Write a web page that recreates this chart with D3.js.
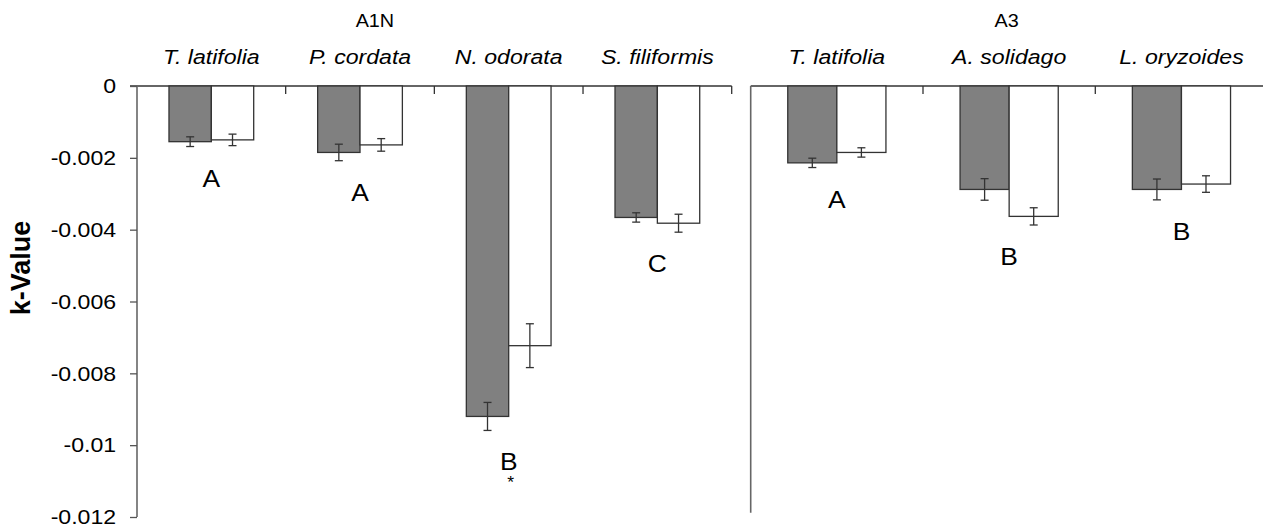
<!DOCTYPE html>
<html>
<head>
<meta charset="utf-8">
<script src="https://cdn.jsdelivr.net/npm/d3@7"></script>
<style>
  body { margin: 0; background: #fff; }
  text { font-family: "Liberation Sans", Arial, sans-serif; fill: #000; }
</style>
</head>
<body>
<div id="root"></div>
<script>
// values (k-value, mean and error)
const leftCats = ["T. latifolia", "P. cordata", "N. odorata", "S. filiformis"];
const leftGray = [-0.00155, -0.00185, -0.0092, -0.00366];
const leftGrayErr = [0.000135, 0.00023, 0.00039, 0.00013];
const leftWhite = [-0.0015, -0.00164, -0.00723, -0.00382];
const leftWhiteErr = [0.00016, 0.000175, 0.00061, 0.00025];
const leftLetters = ["A", "A", "B", "C"];
const leftStars = ["", "", "*", ""];

const rightCats = ["T. latifolia", "A. solidago", "L. oryzoides"];
const rightGray = [-0.00214, -0.00288, -0.00288];
const rightGrayErr = [0.00013, 0.0003, 0.00029];
const rightWhite = [-0.00185, -0.00363, -0.00273];
const rightWhiteErr = [0.00013, 0.00024, 0.00023];
const rightLetters = ["A", "B", "B"];
const rightStars = ["", "", ""];

const yTicks = [0, -0.002, -0.004, -0.006, -0.008, -0.01, -0.012];
const yTickLabels = ["0", "-0.002", "-0.004", "-0.006", "-0.008", "-0.01", "-0.012"];

const width = 1263, height = 531;
const sx = 1.1; // the source picture is slightly stretched sideways

const svg = d3.select("#root")
	.append("svg")
		.attr("width", width)
		.attr("height", height);

const y = d3.scaleLinear().domain([0, -0.012]).range([86, 517]);

const addText = (g, x, yy, str, size, opts = {}) => {
	return g.append("text")
		.attr("transform", `translate(${x}, ${yy}) scale(${opts.rot ? 1 : sx}, 1)${opts.rot ? " rotate(-90)" : ""}`)
		.attr("text-anchor", "middle")
		.style("font-size", size + "px")
		.style("font-style", opts.italic ? "italic" : null)
		.style("font-weight", opts.bold ? "bold" : null)
		.text(str);
};

const drawPanel = (p) => {
	const g = svg.append("g");
	const x = d3.scaleBand().domain(p.cats).range(p.range);
	const sub = d3.scaleBand().domain(["g", "w"]).range([0, x.bandwidth()]).paddingOuter(0.755);
	const rows = p.cats.map((c, i) => ({
		cat: c,
		bars: [
			{ k: "g", v: p.gray[i], e: p.grayErr[i] },
			{ k: "w", v: p.white[i], e: p.whiteErr[i] }
		],
		letter: p.letters[i],
		star: p.stars[i]
	}));

	// zero line on top
	g.append("line")
		.attr("x1", p.range[0] - (p.axis ? 7 : 0)).attr("x2", Math.min(p.range[1], width))
		.attr("y1", y(0)).attr("y2", y(0))
		.style("stroke", "#333").style("stroke-width", 1.3);

	// category boundary ticks
	g.selectAll(".cattick")
		.data(p.cats.slice(1).map(c => x(c)).concat(p.range[1] < width ? [p.range[1]] : []))
		.enter()
		.append("line")
			.attr("x1", d => d).attr("x2", d => d)
			.attr("y1", y(0)).attr("y2", y(0) + 8)
			.style("stroke", "#333").style("stroke-width", 1.3);

	const groups = g.selectAll(".grp")
		.data(rows).enter()
		.append("g")
			.attr("transform", d => `translate(${x(d.cat)}, 0)`);

	groups.selectAll("rect")
		.data(d => d.bars).enter()
		.append("rect")
			.attr("x", d => sub(d.k))
			.attr("y", y(0))
			.attr("width", sub.bandwidth())
			.attr("height", d => y(d.v) - y(0))
			.style("fill", d => d.k == "g" ? "#808080" : "#fff")
			.style("stroke", "#333")
			.style("stroke-width", 1.3);

	const err = groups.selectAll(".err")
		.data(d => d.bars).enter()
		.append("g")
			.attr("transform", d => `translate(${sub(d.k) + sub.bandwidth() / 2}, 0)`)
			.style("stroke", "#333").style("stroke-width", 1.3);
	err.append("line").attr("y1", d => y(d.v - d.e)).attr("y2", d => y(d.v + d.e));
	err.append("line").attr("x1", -4).attr("x2", 4).attr("y1", d => y(d.v - d.e)).attr("y2", d => y(d.v - d.e));
	err.append("line").attr("x1", -4).attr("x2", 4).attr("y1", d => y(d.v + d.e)).attr("y2", d => y(d.v + d.e));

	rows.forEach(d => {
		const cx = x(d.cat) + x.bandwidth() / 2;
		const low = d3.max(d.bars, b => y(b.v - b.e));
		addText(g, cx, 64, d.cat, 21, { italic: true });
		addText(g, cx, low + 40, d.letter, 24);
		if (d.star) addText(g, cx + 2, low + 58, d.star, 16);
	});

	addText(g, p.range[0] + (p.range[1] - p.range[0]) * p.headerFrac, 27, p.header, 18);

	// vertical axis line
	g.append("line")
		.attr("x1", p.range[0]).attr("x2", p.range[0])
		.attr("y1", y(0)).attr("y2", p.axis ? y(-0.012) : 512.7)
		.style("stroke", "#666").style("stroke-width", 1.6);

	if (p.axis) {
		const ax = g.append("g")
			.attr("transform", `translate(${p.range[0]}, 0)`)
			.call(d3.axisLeft(y).tickValues(yTicks).tickFormat((d, i) => yTickLabels[i]).tickSize(7).tickPadding(12));
		ax.select(".domain").remove();
		ax.selectAll("line").style("stroke", "#555").style("stroke-width", 1.3);
		ax.selectAll("text")
			.attr("transform", `scale(${sx}, 1)`)
			.style("font-size", "21px")
			.style("font-family", "'Liberation Sans', Arial, sans-serif")
			.style("fill", "#000");
	}
};

drawPanel({
	cats: leftCats, gray: leftGray, grayErr: leftGrayErr, white: leftWhite, whiteErr: leftWhiteErr,
	letters: leftLetters, stars: leftStars, range: [137, 731.7], header: "A1N", headerFrac: 0.4, axis: true
});
drawPanel({
	cats: rightCats, gray: rightGray, grayErr: rightGrayErr, white: rightWhite, whiteErr: rightWhiteErr,
	letters: rightLetters, stars: rightStars, range: [750.7, 1267.6], header: "A3", headerFrac: 0.495, axis: false
});

addText(svg, 30, 268, "k-Value", 27, { bold: true, rot: true });
</script>
</body>
</html>
